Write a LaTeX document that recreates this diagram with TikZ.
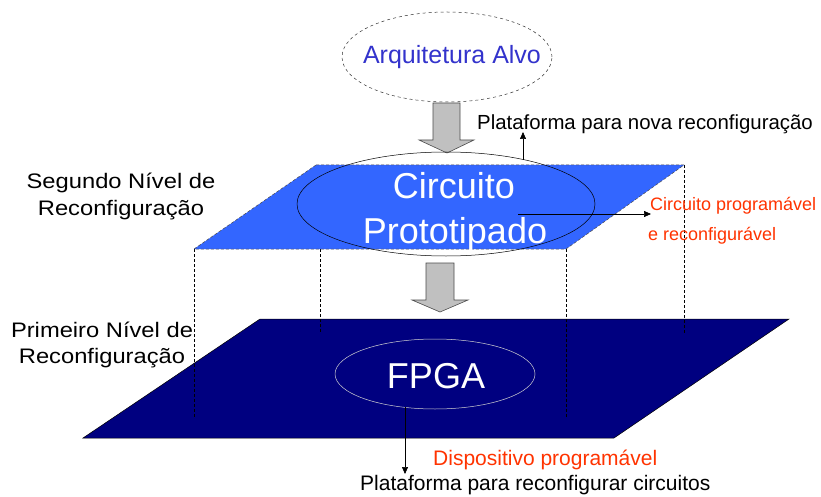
\documentclass[tikz,border=0pt]{standalone}
\usepackage{fontspec}
\setmainfont{Liberation Sans}
\usetikzlibrary{shapes.geometric,arrows.meta,calc}
\definecolor{planeblue}{HTML}{3366FF}
\definecolor{planenavy}{HTML}{000080}
\definecolor{txtblue}{HTML}{3333CC}
\definecolor{txtred}{HTML}{FF3300}
\definecolor{arrowgray}{HTML}{C0C0C0}
\begin{document}
\begin{tikzpicture}[x=1pt,y=-1pt,
  blockarrow/.style={fill=arrowgray, draw=gray!60!black, line width=0.6pt},
  guide/.style={draw=black, dash pattern=on 3pt off 2pt, line width=0.5pt},
  lbl/.style={anchor=base, inner sep=0pt},
  lbll/.style={anchor=base west, inner sep=0pt},
  thinarrow/.style={-{Triangle[length=7pt,width=6pt]}, line width=0.6pt},
  ell/.style={ellipse, inner sep=0pt}]
\useasboundingbox[fill=white] (0,0) rectangle (821,497);

% plane corners
\coordinate (ta) at (316,165); \coordinate (tb) at (684,165);
\coordinate (tc) at (566,249); \coordinate (td) at (194,249);
\coordinate (ba) at (260,319); \coordinate (bb) at (789,319);
\coordinate (bc) at (614,438); \coordinate (bd) at (83,438);

% lower plane
\fill[planenavy, draw=black, line width=0.5pt] (ba) -- (bb) -- (bc) -- (bd) -- cycle;

% guide verticals
\coordinate (g1) at (194,417); \coordinate (g2) at (566,417);
\coordinate (g3s) at (320,249); \coordinate (g3) at (320,333);
\coordinate (g4) at (684,333);
\draw[guide] (td) -- (g1);
\draw[guide] (tc) -- (g2);
\draw[guide] (g3s) -- (g3);
\draw[guide] (tb) -- (g4);

% upper plane
\fill[planeblue] (ta) -- (tb) -- (tc) -- (td) -- cycle;
\draw[draw=gray!60!black, dash pattern=on 3pt off 2pt, line width=0.5pt] (ta) -- (tb) -- (tc) -- (td) -- cycle;

% target architecture
\node[ell, draw=black!80, dashed, line width=0.5pt, minimum width=210pt, minimum height=90pt] (arqell) at (447,57) {};
\node[lbl, text=txtblue, font=\fontsize{25}{25}\selectfont] (arq) at (452,64) {Arquitetura Alvo};

% block arrow 1
\draw[blockarrow] (433,103) -- (460,103) -- (460,140) -- (474,140) -- (447,153) -- (419,140) -- (433,140) -- cycle;

% prototyped circuit
\node[ell, draw=black, line width=0.5pt, minimum width=298pt, minimum height=104pt] (circ) at (446,204) {};
\node[lbl, text=white, font=\fontsize{36}{36}\selectfont] (c1) at (454,198) {Circuito};
\node[lbl, text=white, font=\fontsize{36}{36}\selectfont] (c2) at (455,243) {Prototipado};

% block arrow 2
\draw[blockarrow] (426,263) -- (454,263) -- (454,300) -- (468,300) -- (440,312) -- (412,300) -- (426,300) -- cycle;

% FPGA
\node[ell, draw=gray!35, line width=0.5pt, minimum width=200pt, minimum height=70pt] (fpga) at (435,374) {};
\node[lbl, text=white, font=\fontsize{36}{36}\selectfont] (ftxt) at (436,388) {FPGA};

% labels and thin arrows
\node[lbll, font=\fontsize{20.4}{20.4}\selectfont] (novaplat) at (477,130) {Plataforma para nova reconfiguração};
\coordinate (up0) at (523,160); \coordinate (up1) at (523,132);
\draw[thinarrow] (up0) -- (up1);

\node[lbll, text=txtred, font=\fontsize{18}{18}\selectfont] (cp1) at (650,210) {Circuito programável};
\node[lbll, text=txtred, font=\fontsize{18}{18}\selectfont] (cp2) at (648,240) {e reconfigurável};
\coordinate (r0) at (518,214); \coordinate (r1) at (651,214);
\draw[thinarrow] (r0) -- (r1);

\node[lbll, text=txtred, font=\fontsize{21}{21}\selectfont] (disp) at (433,465) {Dispositivo programável};
\node[lbll, font=\fontsize{21}{21}\selectfont] (platr) at (360,490) {Plataforma para reconfigurar circuitos};
\coordinate (d0) at (405,407); \coordinate (d1) at (405,474);
\draw[thinarrow] (d0) -- (d1);

% level labels
\node[lbl, font=\fontsize{21}{21}\selectfont] (s1) at (121,189) {\scalebox{1.13}[1]{Segundo Nível de}};
\node[lbl, font=\fontsize{21}{21}\selectfont] (s2) at (121,215) {\scalebox{1.13}[1]{Reconfiguração}};
\node[lbl, font=\fontsize{21}{21}\selectfont] (p1) at (102,337) {\scalebox{1.13}[1]{Primeiro Nível de}};
\node[lbl, font=\fontsize{21}{21}\selectfont] (p2) at (102,363) {\scalebox{1.13}[1]{Reconfiguração}};
\end{tikzpicture}
\end{document}
